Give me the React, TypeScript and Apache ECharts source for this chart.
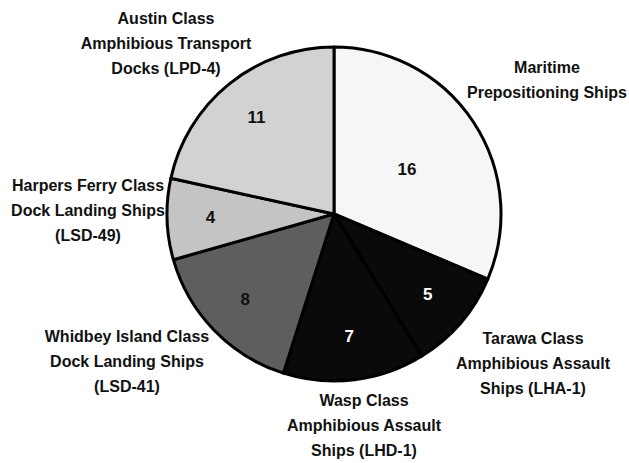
import React, { useEffect, useRef } from "react";
import * as echarts from "echarts";

const categories = [
  "Maritime\nPrepositioning Ships",
  "Tarawa Class\nAmphibious Assault\nShips (LHA-1)",
  "Wasp Class\nAmphibious Assault\nShips (LHD-1)",
  "Whidbey Island Class\nDock Landing Ships\n(LSD-41)",
  "Harpers Ferry Class\nDock Landing Ships\n(LSD-49)",
  "Austin Class\nAmphibious Transport\nDocks (LPD-4)",
];
const values = [16, 5, 7, 8, 4, 11];

// styles / layout (not data)
const sliceColors = ["#f6f6f6", "#0a0a0a", "#0a0a0a", "#5e5e5e", "#c4c4c4", "#d2d2d2"];
const valueColors = ["#111", "#fff", "#fff", "#111", "#111", "#111"];
const nameLabelPos: [number, number][] = [
  [547, 80],
  [533, 363],
  [364, 425],
  [127, 361],
  [88, 210],
  [166, 43],
];
const FONT = "'Liberation Sans', Arial, sans-serif";

export default function App() {
  const ref = useRef<HTMLDivElement>(null);
  useEffect(() => {
    if (!ref.current) return;
    const chart = echarts.init(ref.current, undefined, { renderer: "svg" });
    const center = [334, 214];
    const R = 167;
    chart.setOption({
      animation: false,
      backgroundColor: "#ffffff",
      series: [
        {
          type: "pie",
          center,
          radius: [0, R],
          startAngle: 90,
          clockwise: true,
          silent: true,
          itemStyle: { borderColor: "#000", borderWidth: 3 },
          label: {
            show: true,
            position: "outside",
            formatter: "{b}",
            fontFamily: FONT,
            fontWeight: "bold",
            fontSize: 16,
            lineHeight: 25,
            color: "#111",
            overflow: "none",
          },
          labelLine: { show: false },
          labelLayout: (p: any) => ({
            x: nameLabelPos[p.dataIndex][0],
            y: nameLabelPos[p.dataIndex][1],
            align: "center",
            verticalAlign: "middle",
          }),
          data: categories.map((name, i) => ({
            name,
            value: values[i],
            itemStyle: { color: sliceColors[i] },
          })),
        },
        {
          type: "pie",
          center,
          radius: [74, R],
          startAngle: 90,
          clockwise: true,
          silent: true,
          itemStyle: { color: "transparent", borderWidth: 0 },
          label: {
            show: true,
            position: "inside",
            rotate: 0,
            formatter: "{c}",
            fontFamily: FONT,
            fontWeight: "bold",
            fontSize: 17,
          },
          labelLine: { show: false },
          labelLayout: (p: any) => (p.dataIndex === 0 ? { dx: -30, dy: 24 } : {}),
          data: categories.map((name, i) => ({
            name,
            value: values[i],
            label: { color: valueColors[i] },
          })),
        },
      ],
    });
    return () => chart.dispose();
  }, []);
  return (
    <div
      ref={ref}
      style={{ position: "fixed", left: 0, top: 0, width: 629, height: 463 }}
    />
  );
}
